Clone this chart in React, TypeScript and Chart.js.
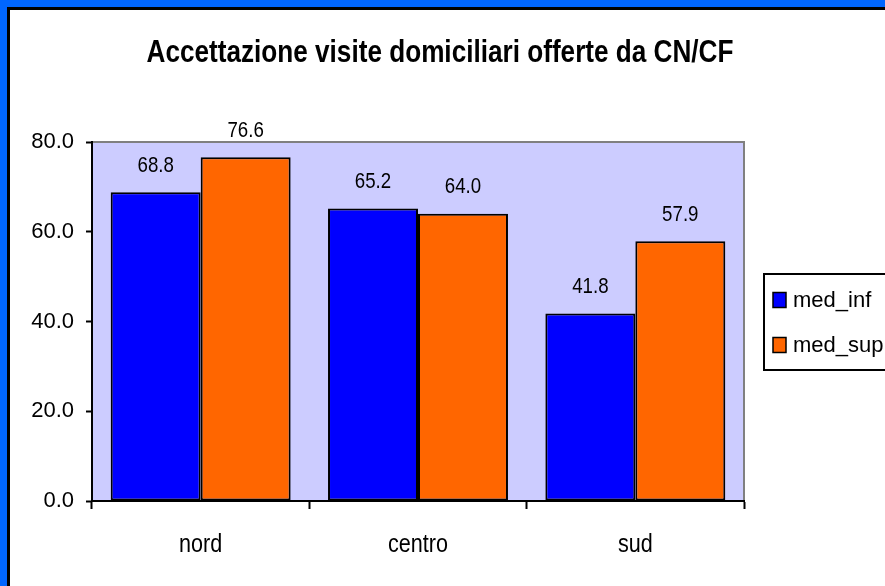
import React, { useEffect, useRef } from "react";
import { Chart, registerables } from "chart.js";
Chart.register(...registerables);

const categories = ["nord", "centro", "sud"];
const medInf = [68.8, 65.2, 41.8];
const medSup = [76.6, 64.0, 57.9];
const seriesLabels = ["med_inf", "med_sup"];
const seriesColors = ["#0000FF", "#FF6600"];
const yMin = 0;
const yMax = 80;
const yStep = 20;
const titleText = "Accettazione visite domiciliari offerte da CN/CF";

const FONT = '"Liberation Sans", Arial, sans-serif';

function drawText(ctx: any, text: string, x: number, y: number, sx: number, align: string) {
  ctx.save();
  ctx.translate(x, y);
  ctx.scale(sx, 1);
  ctx.textAlign = align;
  ctx.fillText(text, 0, 0);
  ctx.restore();
}

const customPlugin = {
  id: "custom",
  beforeDraw(chart: any) {
    const { ctx, chartArea: a } = chart;
    ctx.save();
    ctx.fillStyle = "#CCCCFF";
    ctx.fillRect(a.left, a.top, a.right - a.left, a.bottom - a.top);
    ctx.strokeStyle = "#808080";
    ctx.lineWidth = 2;
    ctx.beginPath();
    ctx.moveTo(a.left, a.top);
    ctx.lineTo(a.right, a.top);
    ctx.lineTo(a.right, a.bottom);
    ctx.stroke();
    ctx.restore();
  },
  afterDraw(chart: any) {
    const { ctx } = chart;
    ctx.save();
    ctx.fillStyle = "#000";
    ctx.textBaseline = "alphabetic";
    // data labels
    ctx.font = `22px ${FONT}`;
    chart.data.datasets.forEach((ds: any, i: number) => {
      const meta = chart.getDatasetMeta(i);
      meta.data.forEach((bar: any, j: number) => {
        drawText(ctx, Number(ds.data[j]).toFixed(1), bar.x, bar.y - 20.5, 0.85, "center");
      });
    });
    // category labels
    ctx.font = `26px ${FONT}`;
    const xs = chart.scales.x;
    chart.data.labels.forEach((lab: string, i: number) => {
      drawText(ctx, lab, xs.getPixelForTick(i), 551.5, 0.83, "center");
    });
    // title
    ctx.font = `bold 32px ${FONT}`;
    drawText(ctx, titleText, 440, 62, 0.817, "center");
    // legend
    const lx = 764;
    const ly = 274;
    ctx.strokeStyle = "#000";
    ctx.lineWidth = 2;
    ctx.strokeRect(lx, ly, 200, 96);
    ctx.textAlign = "left";
    ctx.textBaseline = "middle";
    ctx.font = `22px ${FONT}`;
    chart.data.datasets.forEach((ds: any, i: number) => {
      const cy = 300 + i * 45;
      ctx.fillStyle = ds.backgroundColor;
      ctx.fillRect(773, cy - 7.5, 13, 15);
      ctx.lineWidth = 1.5;
      ctx.strokeRect(773, cy - 7.5, 13, 15);
      ctx.fillStyle = "#000";
      ctx.fillText(ds.label, 793, cy + 1);
    });
    ctx.restore();
  },
};

export default function App() {
  const ref = useRef<HTMLCanvasElement | null>(null);
  useEffect(() => {
    if (!ref.current) return;
    const chart = new Chart(ref.current, {
      type: "bar",
      data: {
        labels: categories,
        datasets: [
          {
            label: seriesLabels[0],
            data: medInf,
            backgroundColor: seriesColors[0],
            borderColor: "#000",
            borderWidth: 2,
            borderSkipped: false,
            barPercentage: 1,
            categoryPercentage: 0.828,
          },
          {
            label: seriesLabels[1],
            data: medSup,
            backgroundColor: seriesColors[1],
            borderColor: "#000",
            borderWidth: 2,
            borderSkipped: false,
            barPercentage: 1,
            categoryPercentage: 0.828,
          },
        ],
      },
      options: {
        responsive: false,
        animation: false,
        devicePixelRatio: 1,
        layout: { padding: { left: 0, top: 142, right: 141, bottom: 0 } },
        plugins: {
          legend: { display: false },
          title: { display: false },
          tooltip: { enabled: false },
        },
        scales: {
          x: {
            grid: {
              offset: true,
              drawOnChartArea: false,
              drawTicks: true,
              tickLength: 8,
              tickWidth: 2,
              tickColor: "#000",
            },
            border: { display: true, color: "#000", width: 2 },
            ticks: { display: false },
            afterFit: (s: any) => {
              s.height = 85;
            },
          },
          y: {
            min: yMin,
            max: yMax,
            grid: {
              drawOnChartArea: false,
              drawTicks: true,
              tickLength: 6,
              tickWidth: 2,
              tickColor: "#000",
            },
            border: { display: true, color: "#000", width: 2 },
            ticks: {
              stepSize: yStep,
              color: "#000",
              padding: 12,
              font: { family: FONT, size: 22 },
              callback: (v: any) => Number(v).toFixed(1),
            },
            afterFit: (s: any) => {
              s.width = 92;
            },
          },
        },
      },
      plugins: [customPlugin],
    });
    return () => chart.destroy();
  }, []);
  return (
    <div style={{ position: "fixed", left: 0, top: 0, width: 885, height: 586, background: "#0066FF", overflow: "hidden" }}>
      <div style={{ position: "absolute", left: 7, top: 7, width: 900, height: 600, background: "#fff", borderLeft: "3px solid #000", borderTop: "3px solid #000" }} />
      <canvas ref={ref} width={885} height={586} style={{ position: "absolute", left: 0, top: 0, width: 885, height: 586 }} />
    </div>
  );
}
